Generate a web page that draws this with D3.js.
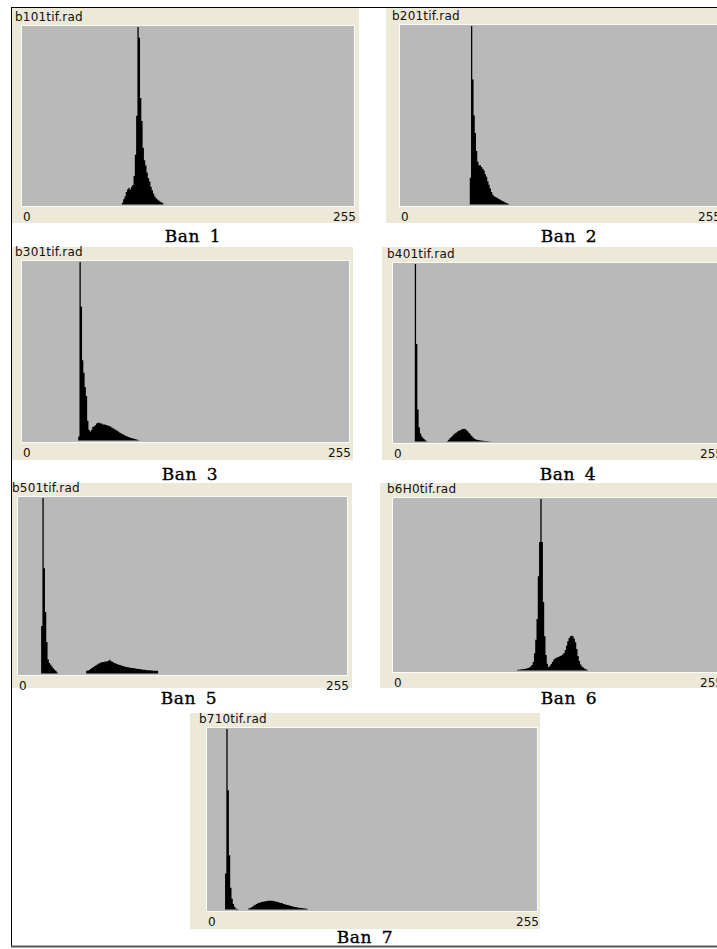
<!DOCTYPE html>
<html>
<head>
<meta charset="utf-8">
<script src="https://cdn.jsdelivr.net/npm/d3@7"></script>
<style>
  html, body { margin: 0; padding: 0; background: #fff; }
  svg { display: block; }
  .win-title, .tick-label { font-family: "DejaVu Sans", Verdana, sans-serif; font-size: 12px; fill: #111; }
  .caption { font-family: "DejaVu Serif", serif; font-size: 17px; fill: #000; stroke: #000; stroke-width: 0.35px; }
</style>
</head>
<body>
<svg id="chart"></svg>
<script>
// window titles and captions
const titles = ['b101tif.rad', 'b201tif.rad', 'b301tif.rad', 'b401tif.rad', 'b501tif.rad', 'b6H0tif.rad', 'b710tif.rad'];
const captions = ['Ban 1', 'Ban 2', 'Ban 3', 'Ban 4', 'Ban 5', 'Ban 6', 'Ban 7'];
const tickLabels = ['0', '255'];

// histogram counts, % of the peak bin, one value per grey level from the start level
const band1Start = 77;
const band1 = [1, 3, 4.5, 7, 8.5, 9.5, 8.5, 10, 11, 16, 28, 50, 100, 94, 60, 47, 32, 25, 22, 18, 15, 13, 10, 8, 6, 4.5, 3.5, 2.8, 2.2, 1.6, 1.2, 0.8];

const band2Start = 56;
const band2 = [15, 100, 70, 50, 40, 30, 24, 22, 22, 21, 20, 19, 17, 15.6, 13, 11, 9, 7, 5.6, 4.8, 4.2, 3.9, 3.5, 3.1, 2.7, 2.3, 1.9, 1.5, 1.1, 0.8, 0.5, 0.2];

const band3Start = 44;
const band3 = [2.3, 100, 75, 45, 38, 30, 25, 11, 6, 5, 6, 7.5, 8, 8.5, 9.5, 10, 10, 9.5, 9.5, 9, 9, 8.8, 8.5, 8.2, 8, 7.8, 7.2, 6.8, 6.3, 6, 5.5, 5, 4.5, 4.1, 3.7, 3.3, 2.9, 2.5, 2.2, 1.9, 1.7, 1.4, 1.2, 1, 0.8, 0.6, 0.4, 0.2];

const band4Start = 17;
const band4 = [100, 55, 18, 8, 4.5, 3, 2, 1.2, 0.6, 0.2, 0, 0, 0, 0, 0, 0, 0, 0, 0, 0, 0, 0, 0, 0, 0,
  0.3, 1, 1.8, 2.6, 3.3, 4, 4.6, 5.1, 5.6, 6, 6.4, 6.8, 7.1, 7.2, 7, 6.4, 5.7, 4.8, 3.9, 3.1, 2.3, 1.7, 1.3, 1, 0.8, 0.7, 0.6, 0.5, 0.4, 0.35, 0.3, 0.25, 0.2, 0.15];

const band5Start = 18;
const band5 = [27, 100, 60, 35, 18, 8, 6, 5, 4, 3, 2.2, 1.5, 0.5, 0, 0, 0, 0, 0, 0, 0, 0, 0, 0, 0, 0, 0, 0, 0, 0, 0, 0, 0, 0, 0, 0,
  1.5, 1.7, 2, 2.6, 3.1, 3.6, 4.1, 4.6, 5, 5.5, 5.9, 6.2, 6.4, 6.6, 6.7, 6.9, 7, 7.2, 7.8, 7, 6.7, 6.3, 5.9, 5.6, 5.3, 5, 4.8, 4.5, 4.3, 4.1, 3.9, 3.7, 3.5, 3.4, 3.3, 3.2, 3.1, 3, 2.9, 2.7, 2.6, 2.5, 2.4, 2.3, 2.2, 2.1, 2, 1.9, 1.8, 1.8, 1.7, 1.7, 1.6, 1.6, 1.5, 1.5];

const band6Start = 97;
const band6 = [0.4, 0.5, 0.6, 0.7, 0.8, 0.9, 1, 1.1, 1.4, 1.8, 2.3, 3.2, 5, 10, 18, 30, 55, 75, 100, 75, 40, 20, 9, 4, 2, 2.8, 3.8, 5, 6.2, 7, 7.4, 7.7, 8, 8.4, 8.7, 9.3, 10.2, 12, 14.5, 17, 19, 20, 20.3, 20, 18.5, 16.5, 12.5, 8.5, 5.5, 3.5, 2.4, 1.8, 1.2, 0.8, 0.4];

const band7Start = 14;
const band7 = [20, 100, 66, 30, 12, 6, 3, 1.5, 0.6, 0.3, 0, 0, 0, 0, 0, 0, 0, 0,
  0.6, 0.9, 1.3, 1.7, 2.2, 2.6, 3, 3.4, 3.7, 3.9, 4.1, 4.3, 4.5, 4.6, 4.7, 4.8, 4.8, 4.8, 4.8, 4.7, 4.6, 4.4, 4.2, 4, 3.8, 3.6, 3.4, 3.1, 2.9, 2.7, 2.5, 2.3, 2.1, 1.9, 1.7, 1.5, 1.4, 1.2, 1.1, 1, 0.9, 0.8, 0.7, 0.6, 0.5, 0.4];

const bandStarts = [band1Start, band2Start, band3Start, band4Start, band5Start, band6Start, band7Start];
const bandCounts = [band1, band2, band3, band4, band5, band6, band7];

// layout of each window: frame box, plot box, title x, caption centre
const panels = [
  { fx: 12, fy: 8, fw: 347, fh: 215, px0: 22, px1: 354, py0: 26, py1: 206, tx: 15, cx: 193, cy: 242 },
  { fx: 386, fy: 8, fw: 360, fh: 215, px0: 400, px1: 719, py0: 25, py1: 206, tx: 392, cx: 569, cy: 242 },
  { fx: 12, fy: 247, fw: 341, fh: 213, px0: 22, px1: 349, py0: 261, py1: 442, tx: 15, cx: 190, cy: 480 },
  { fx: 382, fy: 247, fw: 360, fh: 213, px0: 393, px1: 721, py0: 263, py1: 443, tx: 387, cx: 568, cy: 480 },
  { fx: 12, fy: 483, fw: 340, fh: 205, px0: 18, px1: 347, py0: 497, py1: 675, tx: 12, cx: 189, cy: 704 },
  { fx: 380, fy: 483, fw: 360, fh: 205, px0: 393, px1: 721, py0: 498, py1: 672, tx: 387, cx: 569, cy: 704 },
  { fx: 190, fy: 713, fw: 350, fh: 216, px0: 207, px1: 537, py0: 728, py1: 911, tx: 199, cx: 365, cy: 943 },
];

const width = 717;
const height = 949;

const svg = d3.select('#chart')
  .attr('width', width)
  .attr('height', height);

// page frame
svg.append('line').attr('x1', 11).attr('x2', width).attr('y1', 7.5).attr('y2', 7.5)
  .attr('stroke', '#000').attr('stroke-width', 1);
svg.append('line').attr('x1', 11.5).attr('x2', 11.5).attr('y1', 7).attr('y2', 947)
  .attr('stroke', '#000').attr('stroke-width', 1);
svg.append('line').attr('x1', 11).attr('x2', width).attr('y1', 946.5).attr('y2', 946.5)
  .attr('stroke', '#555').attr('stroke-width', 2);

panels.forEach((p, i) => {
  const g = svg.append('g').attr('class', 'panel');

  g.append('rect')
    .attr('x', p.fx).attr('y', p.fy)
    .attr('width', p.fw).attr('height', p.fh)
    .attr('fill', '#ece9d8');

  g.append('text')
    .attr('class', 'win-title')
    .attr('x', p.tx).attr('y', p.py0 - 5)
    .attr('letter-spacing', 0.2)
    .text(titles[i]);

  // sunken plot box
  g.append('rect')
    .attr('x', p.px0 - 1).attr('y', p.py0 - 1)
    .attr('width', p.px1 - p.px0 + 2).attr('height', p.py1 - p.py0 + 2)
    .attr('fill', '#fbfbf8');
  g.append('rect')
    .attr('x', p.px0).attr('y', p.py0)
    .attr('width', p.px1 - p.px0).attr('height', p.py1 - p.py0)
    .attr('fill', '#b9b9b9');

  const x = d3.scaleLinear().domain([0, 256]).range([p.px0, p.px1]);
  const y = d3.scaleLinear().domain([0, 100]).range([p.py1 - 1.5, p.py0 + 1]);

  const start = bandStarts[i];
  const bins = bandCounts[i].map((v, k) => ({ level: start + k, value: v }));
  bins.push({ level: start + bins.length, value: 0 });

  const area = d3.area()
    .curve(d3.curveStepAfter)
    .x((d) => x(d.level))
    .y0(y(0))
    .y1((d) => y(d.value));

  g.append('path')
    .datum(bins)
    .attr('d', area)
    .attr('fill', '#000');

  g.append('text')
    .attr('class', 'tick-label')
    .attr('x', p.px0 + 1).attr('y', p.py1 + 15)
    .text(tickLabels[0]);
  g.append('text')
    .attr('class', 'tick-label')
    .attr('x', p.px1 + 2).attr('y', p.py1 + 15)
    .attr('text-anchor', 'end')
    .text(tickLabels[1]);

  svg.append('text')
    .attr('class', 'caption')
    .attr('x', p.cx).attr('y', p.cy)
    .attr('text-anchor', 'middle')
    .attr('word-spacing', 4)
    .attr('letter-spacing', 0.5)
    .text(captions[i]);
});
</script>
</body>
</html>
